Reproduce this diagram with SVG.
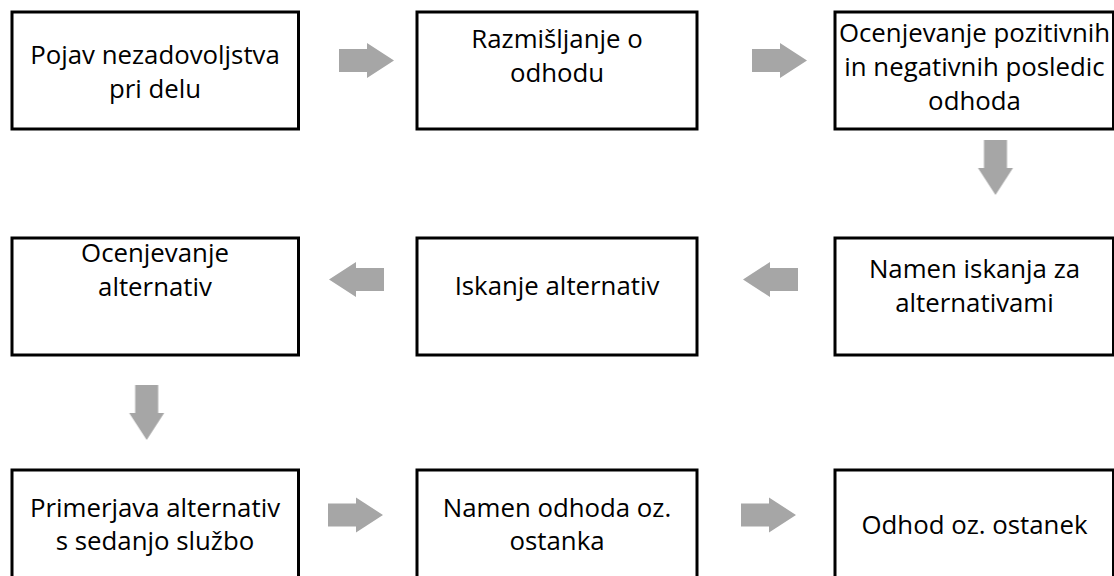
<svg xmlns="http://www.w3.org/2000/svg" width="1114" height="576" viewBox="0 0 1114 576">
  <style>
    .box { fill: #ffffff; stroke: #000000; stroke-width: 3; }
    .lbl { font-family: "Open Sans", "Liberation Sans", sans-serif; font-size: 25.8px; fill: #000000; text-anchor: middle; }
    .arrow { fill: #a6a6a6; filter: url(#soft); }
  </style>
  <defs>
    <filter id="soft" x="-20%" y="-20%" width="140%" height="140%">
      <feGaussianBlur stdDeviation="0.6"/>
    </filter>
    <!-- block arrow pointing right, tip at origin -->
    <path id="blockArrow" d="M -55,-11.5 H -27 V -17.5 L 0,0 L -27,17.5 V 11.5 H -55 Z"/>
  </defs>
  <rect width="1114" height="576" fill="#ffffff"/>

  <g id="connectors">
    <use href="#blockArrow" class="arrow" transform="translate(394,60.5)"/>
    <use href="#blockArrow" class="arrow" transform="translate(807,60.5)"/>
    <use href="#blockArrow" class="arrow" transform="translate(995.5,195) rotate(90)"/>
    <use href="#blockArrow" class="arrow" transform="translate(743,279.5) rotate(180)"/>
    <use href="#blockArrow" class="arrow" transform="translate(329,279.5) rotate(180)"/>
    <use href="#blockArrow" class="arrow" transform="translate(146.7,440) rotate(90)"/>
    <use href="#blockArrow" class="arrow" transform="translate(383,515)"/>
    <use href="#blockArrow" class="arrow" transform="translate(796,515)"/>
  </g>

  <g id="n1">
    <rect class="box" x="12" y="12" width="286.5" height="117"/>
    <text class="lbl" x="155" y="64">Pojav nezadovoljstva</text>
    <text class="lbl" x="155" y="98">pri delu</text>
  </g>
  <g id="n2">
    <rect class="box" x="417" y="12" width="280" height="117"/>
    <text class="lbl" x="557" y="48">Razmišljanje o</text>
    <text class="lbl" x="557" y="82">odhodu</text>
  </g>
  <g id="n3">
    <rect class="box" x="835" y="12" width="278.5" height="117"/>
    <text class="lbl" x="974.5" y="42">Ocenjevanje pozitivnih</text>
    <text class="lbl" x="974.5" y="76">in negativnih posledic</text>
    <text class="lbl" x="974.5" y="110">odhoda</text>
  </g>
  <g id="n4">
    <rect class="box" x="12" y="238" width="286.5" height="117"/>
    <text class="lbl" x="155" y="262">Ocenjevanje</text>
    <text class="lbl" x="155" y="296">alternativ</text>
  </g>
  <g id="n5">
    <rect class="box" x="417" y="238" width="280" height="117"/>
    <text class="lbl" x="557" y="295">Iskanje alternativ</text>
  </g>
  <g id="n6">
    <rect class="box" x="835" y="238" width="278.5" height="117"/>
    <text class="lbl" x="974.5" y="278">Namen iskanja za</text>
    <text class="lbl" x="974.5" y="312">alternativami</text>
  </g>
  <g id="n7">
    <rect class="box" x="12" y="470" width="286.5" height="120"/>
    <text class="lbl" x="155" y="517">Primerjava alternativ</text>
    <text class="lbl" x="155" y="550">s sedanjo službo</text>
  </g>
  <g id="n8">
    <rect class="box" x="417" y="470" width="280" height="120"/>
    <text class="lbl" x="557" y="517">Namen odhoda oz.</text>
    <text class="lbl" x="557" y="550">ostanka</text>
  </g>
  <g id="n9">
    <rect class="box" x="835" y="470" width="278.5" height="120"/>
    <text class="lbl" x="974.5" y="534">Odhod oz. ostanek</text>
  </g>
</svg>
